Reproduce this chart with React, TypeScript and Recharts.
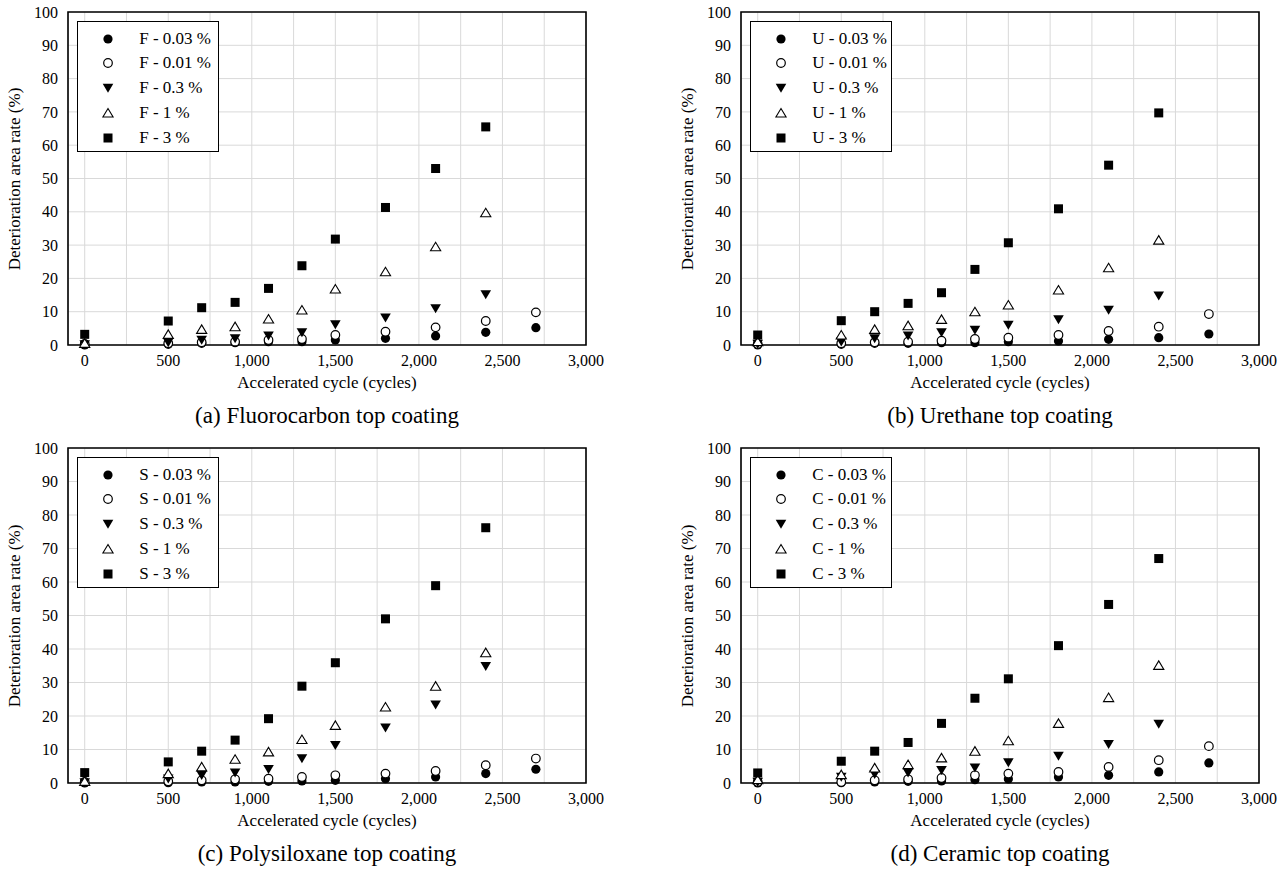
import { CartesianGrid, ReferenceArea, Scatter, ScatterChart, XAxis, YAxis } from "recharts"

// accelerated cycles where readings were taken
const cycles = [0, 500, 700, 900, 1100, 1300, 1500, 1800, 2100, 2400, 2700]
const xTicks = [0, 250, 500, 750, 1000, 1250, 1500, 1750, 2000, 2250, 2500, 2750, 3000]
const yTicks = [0, 10, 20, 30, 40, 50, 60, 70, 80, 90, 100]
const levels = ["0.03 %", "0.01 %", "0.3 %", "1 %", "3 %"]
const kinds = ["dot", "ring", "down", "up", "square"]

// (a) Fluorocarbon
const f003 = [0, 0.2, 0.5, 0.7, 1.0, 1.0, 1.5, 2.0, 2.7, 3.8, 5.2]
const f001 = [0.3, 0.5, 0.8, 1.0, 1.5, 1.8, 3.0, 4.0, 5.3, 7.2, 9.8]
const f03 = [0.2, 0.8, 1.5, 2.0, 2.8, 3.8, 6.2, 8.2, 11.0, 15.2, null]
const f1 = [0.5, 3.2, 4.7, 5.5, 7.8, 10.5, 16.8, 22.0, 29.5, 39.7, null]
const f3 = [3.2, 7.2, 11.2, 12.8, 17.0, 23.8, 31.8, 41.3, 53.0, 65.5, null]

// (b) Urethane
const u003 = [0, 0.2, 0.5, 0.5, 0.7, 0.7, 1.0, 1.2, 1.7, 2.2, 3.3]
const u001 = [0.3, 0.5, 0.8, 1.0, 1.3, 1.8, 2.2, 3.0, 4.2, 5.5, 9.3]
const u03 = [0.3, 1.0, 2.0, 2.8, 3.8, 4.5, 6.0, 7.7, 10.5, 14.8, null]
const u1 = [1.0, 3.0, 4.7, 5.8, 7.7, 10.0, 12.0, 16.5, 23.2, 31.5, null]
const u3 = [3.0, 7.3, 10.0, 12.5, 15.7, 22.7, 30.7, 40.9, 54.0, 69.7, null]

// (c) Polysiloxane
const s003 = [0, 0.1, 0.3, 0.3, 0.5, 0.6, 0.8, 1.3, 1.8, 2.8, 4.1]
const s001 = [0.3, 0.5, 0.8, 1.1, 1.3, 1.8, 2.3, 2.8, 3.6, 5.3, 7.3]
const s03 = [0.2, 1.3, 2.3, 3.1, 4.1, 7.3, 11.3, 16.5, 23.4, 34.9, null]
const s1 = [0.5, 2.8, 4.8, 7.1, 9.3, 13.0, 17.2, 22.7, 28.9, 38.9, null]
const s3 = [3.1, 6.3, 9.5, 12.8, 19.2, 28.9, 35.9, 49.0, 58.9, 76.2, null]

// (d) Ceramic
const c003 = [0, 0.1, 0.3, 0.5, 0.6, 1.0, 1.2, 1.8, 2.3, 3.3, 6.0]
const c001 = [0.3, 0.3, 0.8, 1.1, 1.5, 2.3, 2.8, 3.3, 4.8, 6.8, 11.0]
const c03 = [0.3, 1.8, 2.6, 3.1, 3.8, 4.6, 6.1, 8.1, 11.6, 17.6, null]
const c1 = [1.0, 2.5, 4.5, 5.5, 7.5, 9.5, 12.6, 17.8, 25.5, 35.1, null]
const c3 = [3.0, 6.5, 9.5, 12.1, 17.8, 25.3, 31.1, 41.0, 53.3, 67.0, null]

const FONT = '"Liberation Serif", "Times New Roman", serif'

function Marker({ cx, cy, kind }: { cx?: number; cy?: number; kind: string }) {
  if (cx == null || cy == null) return null
  switch (kind) {
    case "dot":
      return <circle cx={cx} cy={cy} r={4.6} fill="#000" />
    case "ring":
      return <circle cx={cx} cy={cy} r={4.3} fill="#fff" stroke="#000" strokeWidth={1.2} />
    case "down":
      return <polygon points={`${cx - 5.3},${cy - 4.2} ${cx + 5.3},${cy - 4.2} ${cx},${cy + 4.8}`} fill="#000" />
    case "up":
      return (
        <polygon
          points={`${cx - 5.1},${cy + 4} ${cx + 5.1},${cy + 4} ${cx},${cy - 4.5}`}
          fill="#fff"
          stroke="#000"
          strokeWidth={1.1}
        />
      )
    default:
      return <rect x={cx - 4.5} y={cy - 4.5} width={9} height={9} fill="#000" />
  }
}

function toPoints(values: (number | null)[]) {
  return cycles
    .map((x, i) => ({ x, y: values[i] }))
    .filter((p) => p.y !== null)
}

type PanelProps = {
  left: number
  top: number
  width: number
  height: number
  plotL: number
  plotR: number
  plotT: number
  plotB: number
  prefix: string
  caption: string
  series: (number | null)[][]
}

function Panel({ left, top, width, height, plotL, plotR, plotT, plotB, prefix, caption, series }: PanelProps) {
  const plotW = plotR - plotL
  const legW = plotW * 0.275
  const axisW = 40
  const axisH = 30
  const cxMid = (plotL + plotR) / 2

  return (
    <div style={{ position: "absolute", left, top, width, height }}>
      <ScatterChart
        width={width}
        height={height}
        margin={{ top: plotT, right: width - plotR, left: plotL - axisW, bottom: height - plotB - axisH }}
      >
        <CartesianGrid stroke="#d9d9d9" strokeWidth={1} />
        <XAxis
          type="number"
          dataKey="x"
          domain={[-100, 3000]}
          ticks={xTicks}
          interval={0}
          allowDataOverflow
          height={axisH}
          axisLine={false}
          tickLine={false}
          tickSize={6}
          tickMargin={4}
          tick={{ fill: "#000", fontSize: 16, fontFamily: FONT }}
          tickFormatter={(v: number) => (v % 500 === 0 ? v.toLocaleString("en-US") : "")}
        />
        <YAxis
          type="number"
          dataKey="y"
          domain={[0, 100]}
          ticks={yTicks}
          interval={0}
          width={axisW}
          axisLine={false}
          tickLine={false}
          tickSize={5}
          tickMargin={5}
          tick={{ fill: "#000", fontSize: 16, fontFamily: FONT }}
        />
        <ReferenceArea
          x1={-100}
          x2={3000}
          y1={0}
          y2={100}
          fill="none"
          stroke="#000"
          strokeWidth={1.6}
          ifOverflow="visible"
        />
        {series.map((vals, i) => (
          <Scatter
            key={levels[i]}
            name={`${prefix} - ${levels[i]}`}
            data={toPoints(vals)}
            isAnimationActive={false}
            shape={(p: any) => <Marker cx={p.cx} cy={p.cy} kind={kinds[i]} />}
          />
        ))}
      </ScatterChart>

      <div
        style={{
          position: "absolute",
          left: plotL + 9,
          top: plotT + 9,
          width: legW,
          height: 131,
          border: "1px solid #000",
          background: "#fff",
          boxSizing: "border-box",
        }}
      >
        {levels.map((lv, i) => {
          const y = 16.6 + i * 24.8
          return (
            <div key={lv}>
              <svg
                width={14}
                height={14}
                style={{ position: "absolute", left: legW * 0.21 - 7, top: y - 7 }}
              >
                <Marker cx={7} cy={7} kind={kinds[i]} />
              </svg>
              <div
                style={{
                  position: "absolute",
                  left: legW * 0.43,
                  top: y - 10,
                  height: 20,
                  lineHeight: "20px",
                  fontSize: 17,
                  whiteSpace: "nowrap",
                }}
              >
                {`${prefix} - ${lv}`}
              </div>
            </div>
          )
        })}
      </div>

      <div
        style={{
          position: "absolute",
          left: plotL - 53,
          top: (plotT + plotB) / 2,
          transform: "translate(-50%, -50%) rotate(-90deg)",
          whiteSpace: "nowrap",
          fontSize: 17,
        }}
      >
        Deterioration area rate (%)
      </div>
      <div
        style={{
          position: "absolute",
          left: cxMid,
          top: plotB + 38,
          transform: "translate(-50%, -50%)",
          whiteSpace: "nowrap",
          fontSize: 17,
        }}
      >
        Accelerated cycle (cycles)
      </div>
      <div
        style={{
          position: "absolute",
          left: cxMid,
          top: plotB + 71,
          transform: "translate(-50%, -50%)",
          whiteSpace: "nowrap",
          fontSize: 23,
        }}
      >
        {caption}
      </div>
    </div>
  )
}

export default function App() {
  return (
    <div
      style={{
        position: "absolute",
        left: 0,
        top: 0,
        width: 1287,
        height: 871,
        background: "#fff",
        fontFamily: FONT,
        color: "#000",
        overflow: "hidden",
      }}
    >
      <Panel
        left={0}
        top={0}
        width={640}
        height={430}
        plotL={68}
        plotR={586}
        plotT={12}
        plotB={345}
        prefix="F"
        caption="(a) Fluorocarbon top coating"
        series={[f003, f001, f03, f1, f3]}
      />
      <Panel
        left={640}
        top={0}
        width={647}
        height={430}
        plotL={101}
        plotR={619}
        plotT={12}
        plotB={345}
        prefix="U"
        caption="(b) Urethane top coating"
        series={[u003, u001, u03, u1, u3]}
      />
      <Panel
        left={0}
        top={430}
        width={640}
        height={441}
        plotL={68}
        plotR={586}
        plotT={18}
        plotB={353}
        prefix="S"
        caption="(c) Polysiloxane top coating"
        series={[s003, s001, s03, s1, s3]}
      />
      <Panel
        left={640}
        top={430}
        width={647}
        height={441}
        plotL={101}
        plotR={619}
        plotT={18}
        plotB={353}
        prefix="C"
        caption="(d) Ceramic top coating"
        series={[c003, c001, c03, c1, c3]}
      />
    </div>
  )
}
